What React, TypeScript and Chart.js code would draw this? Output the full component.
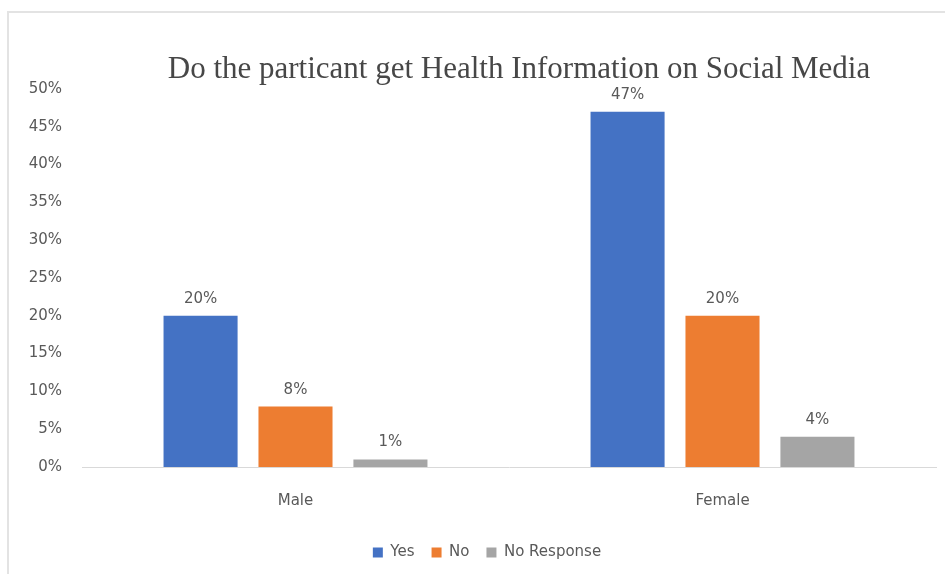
import React, { useEffect, useRef } from "react";
import { Chart, registerables } from "chart.js";

Chart.register(...registerables);

const categories = ["Male", "Female"];
const yesValues = [20, 47];
const noValues = [8, 20];
const noResponseValues = [1, 4];
const seriesNames = ["Yes", "No", "No Response"];
const seriesColors = ["#4472C4", "#ED7D31", "#A5A5A5"];
const titleText = "Do the particant get Health Information on Social Media";

const TEXT = "#595959";
const SANS = "'DejaVu Sans', sans-serif";

const dataLabels = {
  id: "dataLabels",
  afterDatasetsDraw(chart: any) {
    const ctx = chart.ctx;
    ctx.save();
    ctx.font = `15px ${SANS}`;
    ctx.fillStyle = TEXT;
    ctx.textAlign = "center";
    ctx.textBaseline = "alphabetic";
    chart.data.datasets.forEach((ds: any, i: number) => {
      const meta = chart.getDatasetMeta(i);
      meta.data.forEach((el: any, j: number) => {
        ctx.fillText(`${ds.data[j]}%`, el.x, el.y - 13);
      });
    });
    ctx.restore();
  },
};

const titleDraw = {
  id: "titleDraw",
  afterDraw(chart: any) {
    const ctx = chart.ctx;
    ctx.save();
    ctx.font = `31px 'Liberation Serif', serif`;
    ctx.fillStyle = "#474747";
    ctx.textAlign = "center";
    ctx.textBaseline = "alphabetic";
    ctx.fillText(titleText, 519, 78);
    ctx.restore();
  },
};

const legendShift = {
  id: "legendShift",
  afterLayout(chart: any) {
    const lg = chart.legend;
    if (lg) {
      lg.left += 19;
      lg.right += 19;
    }
  },
};

export default function App() {
  const ref = useRef<HTMLCanvasElement | null>(null);
  useEffect(() => {
    if (!ref.current) return;
    const chart = new Chart(ref.current, {
      type: "bar",
      data: {
        labels: categories,
        datasets: [yesValues, noValues, noResponseValues].map((d, i) => ({
          label: seriesNames[i],
          data: d,
          backgroundColor: seriesColors[i],
          borderWidth: 0,
          categoryPercentage: 0.667,
          barPercentage: 0.78,
        })),
      },
      options: {
        animation: false,
        responsive: false,
        maintainAspectRatio: false,
        layout: { padding: { left: 0, right: 9, top: 89, bottom: 4 } },
        plugins: {
          tooltip: { enabled: false },
          title: { display: false },
          legend: {
            position: "bottom",
            labels: {
              boxWidth: 10,
              boxHeight: 10,
              color: TEXT,
              font: { family: SANS, size: 15 },
              padding: 17,
            },
          },
        },
        scales: {
          x: {
            grid: { display: false, drawTicks: false },
            border: { display: true, color: "#D9D9D9", width: 1 },
            ticks: { color: TEXT, font: { family: SANS, size: 15 }, padding: 25 },
            afterFit: (s: any) => {
              s.height = 61;
            },
          },
          y: {
            min: 0,
            max: 50,
            grid: { display: false, drawTicks: false },
            border: { display: false },
            ticks: {
              stepSize: 5,
              color: TEXT,
              font: { family: SANS, size: 15 },
              padding: 20,
              callback: (v: any) => `${v}%`,
            },
            afterFit: (s: any) => {
              s.width = 82;
            },
          },
        },
      },
      plugins: [dataLabels, titleDraw, legendShift],
    });
    return () => chart.destroy();
  }, []);

  return (
    <div style={{ position: "absolute", left: 0, top: 0, width: 945, height: 574, overflow: "hidden", background: "#fff" }}>
      <div style={{ position: "absolute", left: 7, top: 11, width: 940, height: 2, background: "#E3E3E3" }} />
      <div style={{ position: "absolute", left: 7, top: 11, width: 2, height: 570, background: "#E3E3E3" }} />
      <canvas ref={ref} width={945} height={574} style={{ position: "absolute", left: 0, top: 0, width: 945, height: 574 }} />
    </div>
  );
}
